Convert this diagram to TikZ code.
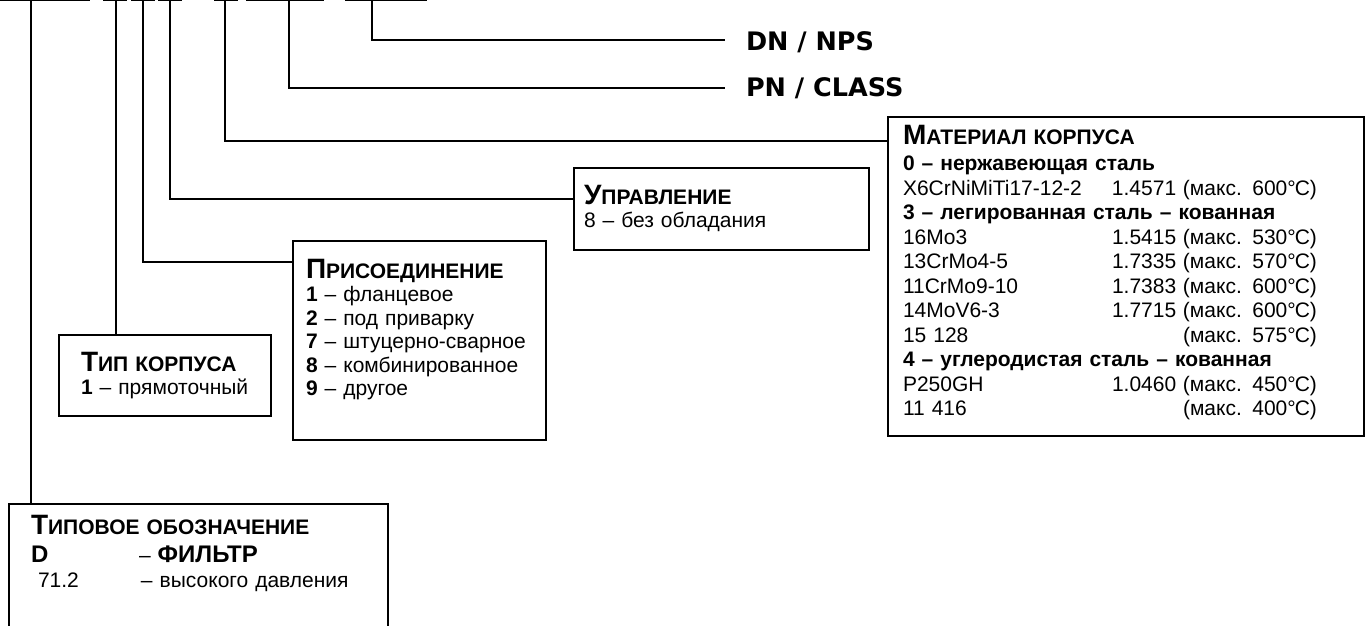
\documentclass[tikz,border=0pt]{standalone}
\usepackage{fontspec}
\setmainfont{Liberation Sans}
\newfontfamily\codefont{DejaVu Sans}
\usetikzlibrary{positioning}

\newcommand{\bodysize}{\fontsize{21}{23.5}\selectfont}
\newcommand{\initsize}{\fontsize{28}{23.5}\selectfont}
\newcommand{\boxtitle}[2]{{\bfseries{\initsize #1}#2}}
\newcommand{\matrow}[3]{\makebox[209pt][l]{#1}\makebox[71pt][l]{#2}#3}
\newcommand{\celsius}{°\kern-1pt C}

\begin{document}
\begin{tikzpicture}[x=1pt,y=-1pt,line width=2pt,
    infobox/.style={draw,anchor=north west,inner ysep=0pt,align=left,font=\bodysize},
    codelabel/.style={anchor=base west,inner sep=0pt,font=\codefont\bfseries\fontsize{25.5}{30}\selectfont}]
	\useasboundingbox (0,0) rectangle (1368,625);
	\clip (0,0) rectangle (1368,625);

	% code bars along the top edge
	\draw (0,0) -- (90,0) (103,0) -- (127,0) (131,0) -- (155,0) (158,0) -- (182,0)
	      (214,0) -- (238,0) (246,0) -- (324,0) (345,0) -- (427,0);

	\coordinate (typ) at (31,0);
	\coordinate (body) at (116,0);
	\coordinate (conn) at (143,0);
	\coordinate (ctrl) at (170,0);
	\coordinate (mat) at (225,0);
	\coordinate (pn) at (289,0);
	\coordinate (dn) at (372,0);
	\coordinate (dn end) at (725,40);
	\coordinate (pn end) at (725,88);

	\node[codelabel] (dn label) at (745,50) {DN / NPS};
	\node[codelabel] (pn label) at (745,96) {PN / CLASS};

	\node[infobox,text width=446pt,inner xsep=15pt,text height=27pt,text depth=292pt,
	      font=\fontsize{21}{24.5}\selectfont] (material) at (887,116) {%
		\boxtitle{М}{АТЕРИАЛ КОРПУСА}\\[2pt]
		\textbf{0 – нержавеющая сталь}\\
		\matrow{X6CrNiMiTi17-12-2}{1.4571}{(макс. 600\celsius)}\\
		\textbf{3 – легированная сталь – кованная}\\
		\matrow{16Mo3}{1.5415}{(макс. 530\celsius)}\\
		\matrow{13CrMo4-5}{1.7335}{(макс. 570\celsius)}\\
		\matrow{11CrMo9-10}{1.7383}{(макс. 600\celsius)}\\
		\matrow{14MoV6-3}{1.7715}{(макс. 600\celsius)}\\
		\matrow{15 128}{}{(макс. 575\celsius)}\\
		\textbf{4 – углеродистая сталь – кованная}\\
		\matrow{P250GH}{1.0460}{(макс. 450\celsius)}\\
		\matrow{11 416}{}{(макс. 400\celsius)}};

	\node[infobox,text width=275pt,inner xsep=10pt,text height=36pt,text depth=46pt] (control) at (573,167) {%
		\boxtitle{У}{ПРАВЛЕНИЕ}\\
		8 – без обладания};

	\node[infobox,text width=227pt,inner xsep=13pt,text height=37pt,text depth=162pt] (connection) at (292,240) {%
		\boxtitle{П}{РИСОЕДИНЕНИЕ}\\
		\textbf{1} – фланцевое\\
		\textbf{2} – под приварку\\
		\textbf{7} – штуцерно-сварное\\
		\textbf{8} – комбинированное\\
		\textbf{9} – другое};

	\node[infobox,text width=168pt,inner xsep=22pt,text height=36pt,text depth=45pt] (bodytype) at (58,334) {%
		\boxtitle{Т}{ИП КОРПУСА}\\
		\textbf{1} – прямоточный};

	\node[infobox,text width=335pt,inner xsep=22pt,text height=30pt,text depth=130pt] (typecode) at (8,503) {%
		\boxtitle{Т}{ИПОВОЕ ОБОЗНАЧЕНИЕ}\\[5pt]
		\makebox[108pt][l]{\fontsize{24}{24}\selectfont\bfseries D}– {\fontsize{24}{24}\selectfont\bfseries ФИЛЬТР}\\[1.5pt]
		\hspace*{7pt}\makebox[103pt][l]{71.2}– высокого давления};

	\draw (dn) |- (dn end);
	\draw (pn) |- (pn end);
	\draw (mat) |- ([yshift=-25pt]material.north west);
	\draw (ctrl) |- ([yshift=-32pt]control.north west);
	\draw (conn) |- ([yshift=-22pt]connection.north west);
	\draw (body) -- (body |- bodytype.north);
	\draw (typ) -- (typ |- typecode.north);
\end{tikzpicture}
\end{document}
